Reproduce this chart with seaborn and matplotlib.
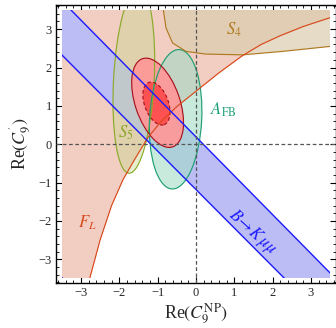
import numpy as np
import pandas as pd
import matplotlib
matplotlib.use("Agg")
import matplotlib.pyplot as plt
import seaborn as sns
from matplotlib.patches import Ellipse, Rectangle, Polygon
from matplotlib.ticker import MultipleLocator

# ---- data ----
# F_L boundary curve (region to its upper-left is allowed)
fl_x = [-2.77, -2.5, -2.2, -1.9, -1.6, -1.25, -0.9, -0.5, 0.0, 0.6, 1.2, 1.7, 2.2, 2.8, 3.5]
fl_y = [-3.5, -2.5, -1.6, -0.92, -0.4, 0.18, 0.6, 0.98, 1.38, 1.86, 2.3, 2.6, 2.83, 3.07, 3.3]
# S4 lower boundary (region above it is allowed)
s4_x = [-0.85, -0.78, -0.61, -0.26, 0.26, 1.22, 2.26, 3.5]
s4_y = [3.5, 3.03, 2.64, 2.42, 2.35, 2.33, 2.42, 2.55]
# B -> K mu mu band edges (straight lines, end points)
band_up_x = [-3.26, 3.5]
band_up_y = [3.5, -3.36]
band_lo_x = [-3.52, 2.31]
band_lo_y = [2.35, -3.5]
band_corner_x = [-3.52, -3.46]
band_corner_y = [-3.45, -3.52]
# ellipses: centre x, centre y, full width, full height, angle (deg)
s5_ell = [-1.62, 1.66, 1.06, 4.84, -3]
afb_ell = [-0.53, 0.65, 1.36, 3.64, -3]
fit_outer = [-1.0, 1.08, 1.16, 2.43, 19]
fit_inner = [-1.03, 1.06, 0.62, 1.17, 20]
# labels
lab_text = [r"$S_5$", r"$A_{\rm FB}$", r"$S_4$", r"$F_L$", r"$B\!\rightarrow\!K\,\mu\mu$"]
lab_x = [-1.83, 0.72, 1.0, -2.83, 1.48]
lab_y = [0.31, 0.9, 2.98, -2.05, -2.3]
lab_rot = [0, 0, 0, 0, -42]
lab_col = ["#8aa52a", "#1fa078", "#b07a22", "#d8481a", "#1a1aff"]
xticks = [-3, -2, -1, 0, 1, 2, 3]
yticks = [-3, -2, -1, 0, 1, 2, 3]
box = [-3.5, 3.5]

# ---- style ----
sns.set_theme(style="ticks")
plt.rcParams["font.family"] = ["Liberation Serif", "DejaVu Serif"]
plt.rcParams["mathtext.fontset"] = "stix"

fig = plt.figure(figsize=(3.36, 3.28), dpi=100)
ax = fig.add_axes([56 / 336, 1 - 283 / 328, 279.5 / 336, 278 / 328])
ax.set_xlim(-3.65, 3.64)
ax.set_ylim(-3.62, 3.63)

clip = Rectangle((box[0], box[0]), box[1] - box[0], box[1] - box[0],
                 transform=ax.transData, facecolor="none", edgecolor="none")
ax.add_patch(clip)

def clipped(artist):
    artist.set_clip_path(clip)
    return artist

# F_L fill
fl_poly = list(zip(fl_x, fl_y)) + [(box[1], box[1]), (box[0], box[1]), (box[0], box[0])]
clipped(ax.add_patch(Polygon(fl_poly, closed=True, facecolor="#f2cdc2",
                             edgecolor="none", zorder=1)))
# S4 fill
s4_poly = list(zip(s4_x, s4_y)) + [(box[1], box[1])]
clipped(ax.add_patch(Polygon(s4_poly, closed=True, facecolor="#dbcdae",
                             alpha=0.7, edgecolor="none", zorder=2)))
# band fill
band_poly = [(box[0], box[1]), (band_up_x[0], band_up_y[0]), (band_up_x[1], band_up_y[1]),
             (box[1], box[0]), (band_lo_x[1], band_lo_y[1]), (band_lo_x[0], band_lo_y[0])]
clipped(ax.add_patch(Polygon(band_poly, closed=True, facecolor="#bdbdf6",
                             edgecolor="none", zorder=3)))

def ell(p, **kw):
    e = Ellipse((p[0], p[1]), p[2], p[3], angle=p[4], **kw)
    ax.add_patch(e)
    return clipped(e)

# S5 and A_FB fills
ell(s5_ell, facecolor="#c8d890", alpha=0.42, edgecolor="none", zorder=4)
ell(afb_ell, facecolor="#a2dcc6", alpha=0.6, edgecolor="none", zorder=4)
# fit ellipses
ell(fit_outer, facecolor="#ff9898", alpha=0.92, edgecolor="none", zorder=5)
ell(fit_inner, facecolor="#ff4e4e", alpha=0.95, edgecolor="none", zorder=6)

# edges
ell(s5_ell, facecolor="none", edgecolor="#8aaa2a", lw=0.85, zorder=7)
ell(afb_ell, facecolor="none", edgecolor="#1f9f74", lw=0.85, zorder=7)
ell(fit_outer, facecolor="none", edgecolor="#a8141e", lw=0.85, zorder=7)
ell(fit_inner, facecolor="none", edgecolor="#a8141e", lw=0.85, ls=(0, (3, 2)), zorder=7)

df_s4 = pd.DataFrame({"x": s4_x, "y": s4_y})
sns.lineplot(data=df_s4, x="x", y="y", color="#b07a22", lw=0.85, ax=ax, zorder=7, sort=False)
df_fl = pd.DataFrame({"x": fl_x, "y": fl_y})
sns.lineplot(data=df_fl, x="x", y="y", color="#d8481a", lw=0.85, ax=ax, zorder=8, sort=False)
for bx, by in [(band_up_x, band_up_y), (band_lo_x, band_lo_y), (band_corner_x, band_corner_y)]:
    sns.lineplot(x=bx, y=by, color="#1a1aff", lw=1.0, ax=ax, zorder=8, sort=False)
for ln in ax.lines:
    ln.set_clip_path(clip)

ax.axvline(0, color="#555555", lw=0.9, ls=(0, (3, 2)), zorder=9)
ax.axhline(0, color="#555555", lw=0.9, ls=(0, (3, 2)), zorder=9)

for t, x, y, r, c in zip(lab_text, lab_x, lab_y, lab_rot, lab_col):
    ax.text(x, y, t, color=c, fontsize=12, rotation=r, ha="center", va="center",
            zorder=10, rotation_mode="anchor")

ax.set_xticks(xticks)
ax.set_yticks(yticks)
ax.set_xticklabels(["\u22123", "\u22122", "\u22121", "0", "1", "2", "3"])
ax.set_yticklabels(["\u22123", "\u22122", "\u22121", "0", "1", "2", "3"])
ax.xaxis.set_minor_locator(MultipleLocator(0.2))
ax.yaxis.set_minor_locator(MultipleLocator(0.2))
ax.tick_params(which="both", direction="in", top=True, right=True, color="black")
ax.tick_params(which="major", length=4, width=0.8, labelsize=9, pad=3)
ax.tick_params(which="minor", length=2, width=0.6)
for s in ax.spines.values():
    s.set_color("black")
    s.set_linewidth(1.0)
ax.set_xlabel(r"Re$(C_9^{\rm NP})$", fontsize=13, labelpad=2)
ax.set_ylabel(r"Re$(C_9^{'})$", fontsize=13, labelpad=4)
ax.set_facecolor("white")

fig.savefig("out.png", dpi=100)
